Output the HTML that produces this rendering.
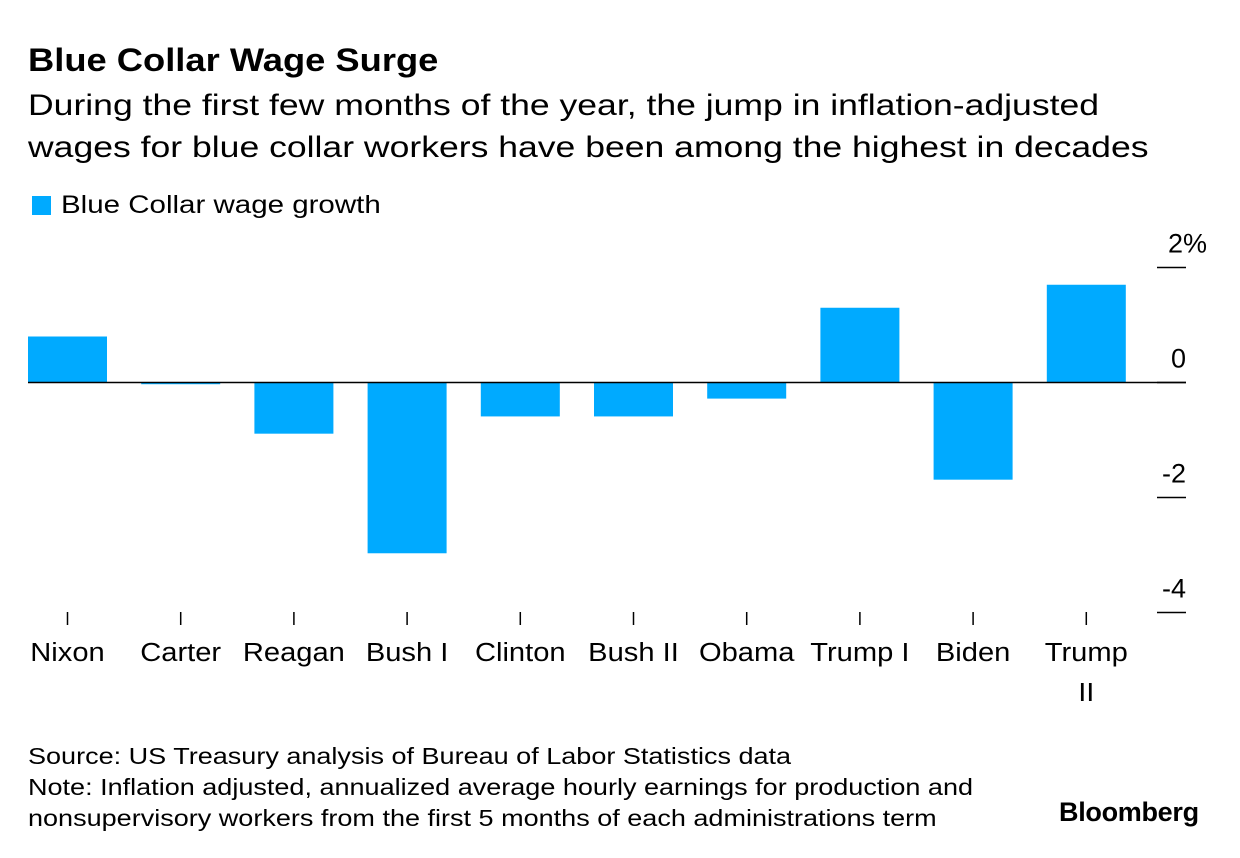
<!DOCTYPE html>
<html><head><meta charset="utf-8"><style>
body{margin:0;width:1240px;height:858px;background:#fff;font-family:"Liberation Sans",Arial,sans-serif;color:#000;position:relative;overflow:hidden}
.a{position:absolute;white-space:nowrap;transform-origin:0 0}
</style></head><body>
<div class="a" style="left:28px;top:42px;font-size:32px;font-weight:bold;transform:scaleX(1.135)">Blue Collar Wage Surge</div>
<div class="a" style="left:28px;top:85px;font-size:30px;line-height:42px;transform:scaleX(1.185)">During the first few months of the year, the jump in inflation-adjusted<br>wages for blue collar workers have been among the highest in decades</div>
<div class="a" style="left:32px;top:191px;font-size:25px"><span style="display:inline-block;width:19px;height:19px;background:#00aaff;margin-right:10px;vertical-align:-2px"></span><span style="display:inline-block;transform:scaleX(1.18);transform-origin:0 0">Blue Collar wage growth</span></div>
<svg id="chart" width="1240" height="720" style="position:absolute;left:0;top:0"></svg>
<div class="a" style="left:28px;top:741px;font-size:23px;line-height:31px;transform:scaleX(1.175)">Source: US Treasury analysis of Bureau of Labor Statistics data<br>Note: Inflation adjusted, annualized average hourly earnings for production and<br>nonsupervisory workers from the first 5 months of each administrations term</div>
<div class="a" style="left:1059px;top:797px;font-size:27px;font-weight:bold;letter-spacing:-0.3px">Bloomberg</div>
<script>
const categories=["Nixon","Carter","Reagan","Bush I","Clinton","Bush II","Obama","Trump I","Biden","Trump II"];
const values=[0.8,-0.03,-0.89,-2.97,-0.59,-0.59,-0.28,1.30,-1.69,1.70];
const ticks=[2,0,-2,-4];
const tickLabels=["2%","0","-2","-4"];
const NS="http://www.w3.org/2000/svg";
const svg=document.getElementById('chart');
const y=v=>382.5-v*57.5;
const x0=28,step=113.2,bw=79;
const x=i=>x0+i*step;
function mk(t,a){const e=document.createElementNS(NS,t);for(const k in a)e.setAttribute(k,a[k]);svg.appendChild(e);return e;}
values.forEach((v,i)=>{
 const r=mk('rect',{x:x(i),y:Math.min(y(v),y(0)),width:bw,height:Math.max(Math.abs(y(v)-y(0)),1),fill:'#00aaff'});
 
 
 const cx=x(i)+bw/2;
 const tk=mk('line',{x1:cx,x2:cx,y1:612,y2:625,stroke:'#000','stroke-width':1.5});
 
 
 const parts=categories[i]==="Trump II"?["Trump","II"]:[categories[i]];
 parts.forEach((p,j)=>{const t=mk('text',{x:cx,y:661+j*40,'text-anchor':'middle','font-size':26,'font-family':'Liberation Sans, Arial, sans-serif',transform:`translate(${cx} 0) scale(1.12 1) translate(${-cx} 0)`});t.textContent=p;
 
 });
});
const zl=mk('line',{x1:28,x2:1186,y1:y(0),y2:y(0),stroke:'#000','stroke-width':1.5});


ticks.forEach((v,i)=>{
 const l=mk('line',{x1:1157,x2:1186,y1:y(v),y2:y(v),stroke:'#000','stroke-width':1.5});
 
 
 const t=mk('text',{x:1186,y:y(v)-15,'text-anchor':'end','font-size':27,'font-family':'Liberation Sans, Arial, sans-serif'});
 t.textContent=tickLabels[i].replace('%','');
 if(tickLabels[i].includes('%')){const s=document.createElementNS(NS,'tspan');s.textContent='%';t.appendChild(s);t.setAttribute('text-anchor','start');t.setAttribute('x',1168);}
 
 
});
</script>
</body></html>
